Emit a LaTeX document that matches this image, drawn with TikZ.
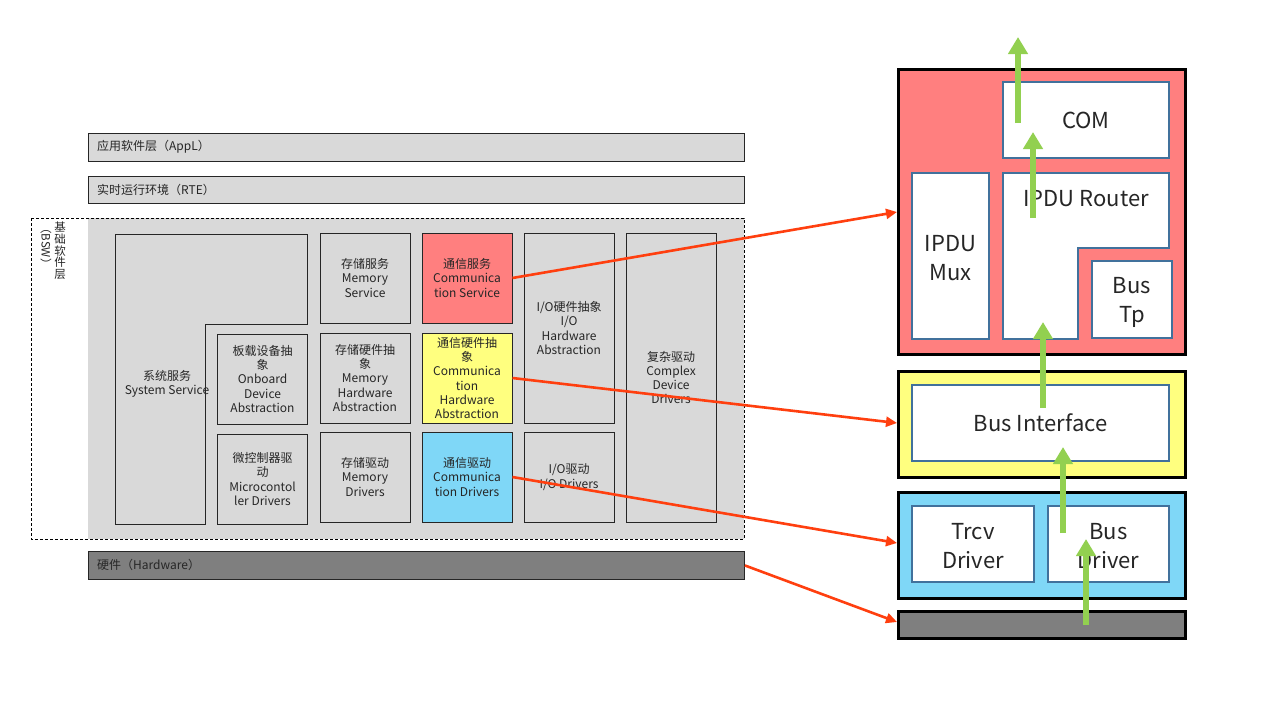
\documentclass[tikz,border=0pt]{standalone}
\usepackage{fontspec}
\setmainfont{Noto Sans CJK SC}
\usetikzlibrary{arrows.meta}
\definecolor{cellgray}{HTML}{D9D9D9}
\definecolor{hwgray}{HTML}{7F7F7F}
\definecolor{comred}{HTML}{FF7F7F}
\definecolor{comyel}{HTML}{FFFF7F}
\definecolor{comblu}{HTML}{7FD7F7}
\definecolor{edgeblue}{HTML}{41719C}
\definecolor{arrred}{HTML}{FF3F0F}
\definecolor{arrgreen}{HTML}{92D050}
\definecolor{txt}{HTML}{262626}
\tikzset{
  cell/.style={draw=black!85, line width=0.9pt, fill=cellgray, inner sep=0pt, align=center,
    font=\fontsize{12}{14.3}\selectfont, text=txt},
  bar/.style={draw=black!85, line width=0.9pt, fill=cellgray, inner sep=0pt, anchor=north west},
  barlabel/.style={anchor=west, inner sep=0pt, font=\fontsize{12}{14}\selectfont, text=txt},
  outerbox/.style={draw=black, line width=3pt, inner sep=0pt, anchor=north west},
  inbox/.style={draw=edgeblue, line width=2.6pt, fill=white, inner sep=0pt, align=center,
    font=\fontsize{22}{29}\selectfont, text=txt},
  bigtext/.style={inner sep=0pt, align=center, font=\fontsize{22}{29.5}\selectfont, text=txt},
  redarrow/.style={draw=arrred, line width=2.6pt, -{Triangle[length=11pt,width=10pt]}},
  greenarrow/.style={draw=arrgreen, line width=6.5pt, -{Triangle[length=17pt,width=19pt]}}
}
\begin{document}
\begin{tikzpicture}[x=1pt,y=-1pt]
\useasboundingbox (0,0) rectangle (1280,720);
\fill[white] (0,0) rectangle (1280,720);

% ---------------- left stack ----------------
\node[bar, minimum width=656pt, minimum height=28pt] (appl) at (88,133) {};
\node[barlabel] (appllbl) at (97,147) {应用软件层（AppL）};
\node[bar, minimum width=656pt, minimum height=27pt] (rte) at (88,176) {};
\node[barlabel] (rtelbl) at (97,189.5) {实时运行环境（RTE）};

% BSW region
\fill[cellgray] (88,218) rectangle (744,539);
\draw[black, line width=0.9pt, dashed, dash pattern=on 3pt off 2pt] (31,218) rectangle (744,539);
\node[inner sep=0pt, align=center, font=\fontsize{11.5}{11.6}\selectfont, text=txt, anchor=north] (bswcn) at (60,222) {基\\础\\软\\件\\层};
\node[inner sep=0pt, rotate=-90, font=\fontsize{11.5}{12}\selectfont, text=txt, anchor=west] (bswen) at (46,222) {（BSW）};

% System service L shape
\draw[black!85, line width=0.9pt, fill=cellgray] (115,234) -- (307,234) -- (307,324) -- (205,324) -- (205,524) -- (115,524) -- cycle;
\node[inner sep=0pt, align=center, font=\fontsize{12}{14.3}\selectfont, text=txt] (syssrv) at (167,384) {系统服务\\System Service};

\node[cell, minimum width=90pt, minimum height=90pt] (onboard) at (262.5,379) {板载设备抽\\象\\Onboard\\Device\\Abstraction};
\node[cell, minimum width=90pt, minimum height=90pt] (mcu) at (262.5,479) {微控制器驱\\动\\Microcontol\\ler Drivers};

\node[cell, minimum width=90pt, minimum height=90pt] (memsrv) at (365,278) {存储服务\\Memory\\Service};
\node[cell, minimum width=90pt, minimum height=90pt] (memhw) at (365,378) {存储硬件抽\\象\\Memory\\Hardware\\Abstraction};
\node[cell, minimum width=90pt, minimum height=90pt] (memdrv) at (365,477) {存储驱动\\Memory\\Drivers};

\node[cell, fill=comred, minimum width=90pt, minimum height=90pt] (comsrv) at (467,278) {通信服务\\Communica\\tion Service};
\node[cell, fill=comyel, minimum width=90pt, minimum height=90pt] (comhw) at (467,378) {通信硬件抽\\象\\Communica\\tion\\Hardware\\Abstraction};
\node[cell, fill=comblu, minimum width=90pt, minimum height=90pt] (comdrv) at (467,477) {通信驱动\\Communica\\tion Drivers};

\node[cell, minimum width=90pt, minimum height=190pt] (iohw) at (569,328) {I/O硬件抽象\\I/O\\Hardware\\Abstraction};
\node[cell, minimum width=90pt, minimum height=90pt] (iodrv) at (569,477) {I/O驱动\\I/O Drivers};

\node[cell, minimum width=90pt, minimum height=289pt] (cdd) at (671,377.5) {复杂驱动\\Complex\\Device\\Drivers};

\node[bar, fill=hwgray, minimum width=656pt, minimum height=28pt] (hw) at (88,551) {};
\node[barlabel] (hwlbl) at (97,565) {硬件（Hardware）};

% ---------------- right stack ----------------
\node[outerbox, fill=comred, minimum width=287pt, minimum height=285pt] (rbox) at (897,68) {};
\node[inbox, minimum width=166pt, minimum height=76pt] (com) at (1086,120) {COM};
\node[inbox, minimum width=77pt, minimum height=166pt] (mux) at (950.5,256) {};
\node[bigtext] (muxlbl) at (950.5,258) {IPDU\\Mux};
\draw[edgeblue, line width=2.6pt, fill=white] (1003,173) -- (1169,173) -- (1169,248) -- (1078,248) -- (1078,339) -- (1003,339) -- cycle;
\node[bigtext] (router) at (1086,199) {IPDU Router};
\node[inbox, minimum width=80pt, minimum height=77pt] (bustp) at (1132,299.5) {};
\node[bigtext] (bustplbl) at (1132,302.5) {Bus\\Tp};

\node[outerbox, fill=comyel, minimum width=287pt, minimum height=106pt] (ybox) at (897,370) {};
\node[inbox, minimum width=257pt, minimum height=76pt] (busif) at (1040.5,423) {Bus Interface};

\node[outerbox, fill=comblu, minimum width=287pt, minimum height=106pt] (bbox) at (897,491) {};
\node[inbox, minimum width=122pt, minimum height=76pt] (trcv) at (973,544) {};
\node[bigtext] (trcvlbl) at (973,546) {Trcv\\Driver};
\node[inbox, minimum width=121pt, minimum height=76pt] (busdrv) at (1108.5,544) {};
\node[bigtext] (busdrvlbl) at (1108.5,546) {Bus\\Driver};

\node[outerbox, fill=hwgray, minimum width=287pt, minimum height=27pt] (hwbox) at (897,610) {};

% ---------------- arrows ----------------
\coordinate (t1) at (897,212);
\coordinate (t2) at (897,423);
\coordinate (t3) at (897,543);
\coordinate (t4) at (897,622);
\draw[redarrow] (comsrv.east) -- (t1);
\draw[redarrow] (comhw.east) -- (t2);
\draw[redarrow] (comdrv.east) -- (t3);
\draw[redarrow] (hw.east) -- (t4);

\coordinate (g1a) at (1018,123); \coordinate (g1b) at (1018,37);
\coordinate (g2a) at (1033,218); \coordinate (g2b) at (1033,132);
\coordinate (g3a) at (1043,408); \coordinate (g3b) at (1043,322);
\coordinate (g4a) at (1063,533); \coordinate (g4b) at (1063,447);
\coordinate (g5a) at (1086,625); \coordinate (g5b) at (1086,539);
\draw[greenarrow] (g1a) -- (g1b);
\draw[greenarrow] (g2a) -- (g2b);
\draw[greenarrow] (g3a) -- (g3b);
\draw[greenarrow] (g4a) -- (g4b);
\draw[greenarrow] (g5a) -- (g5b);
\end{tikzpicture}
\end{document}
